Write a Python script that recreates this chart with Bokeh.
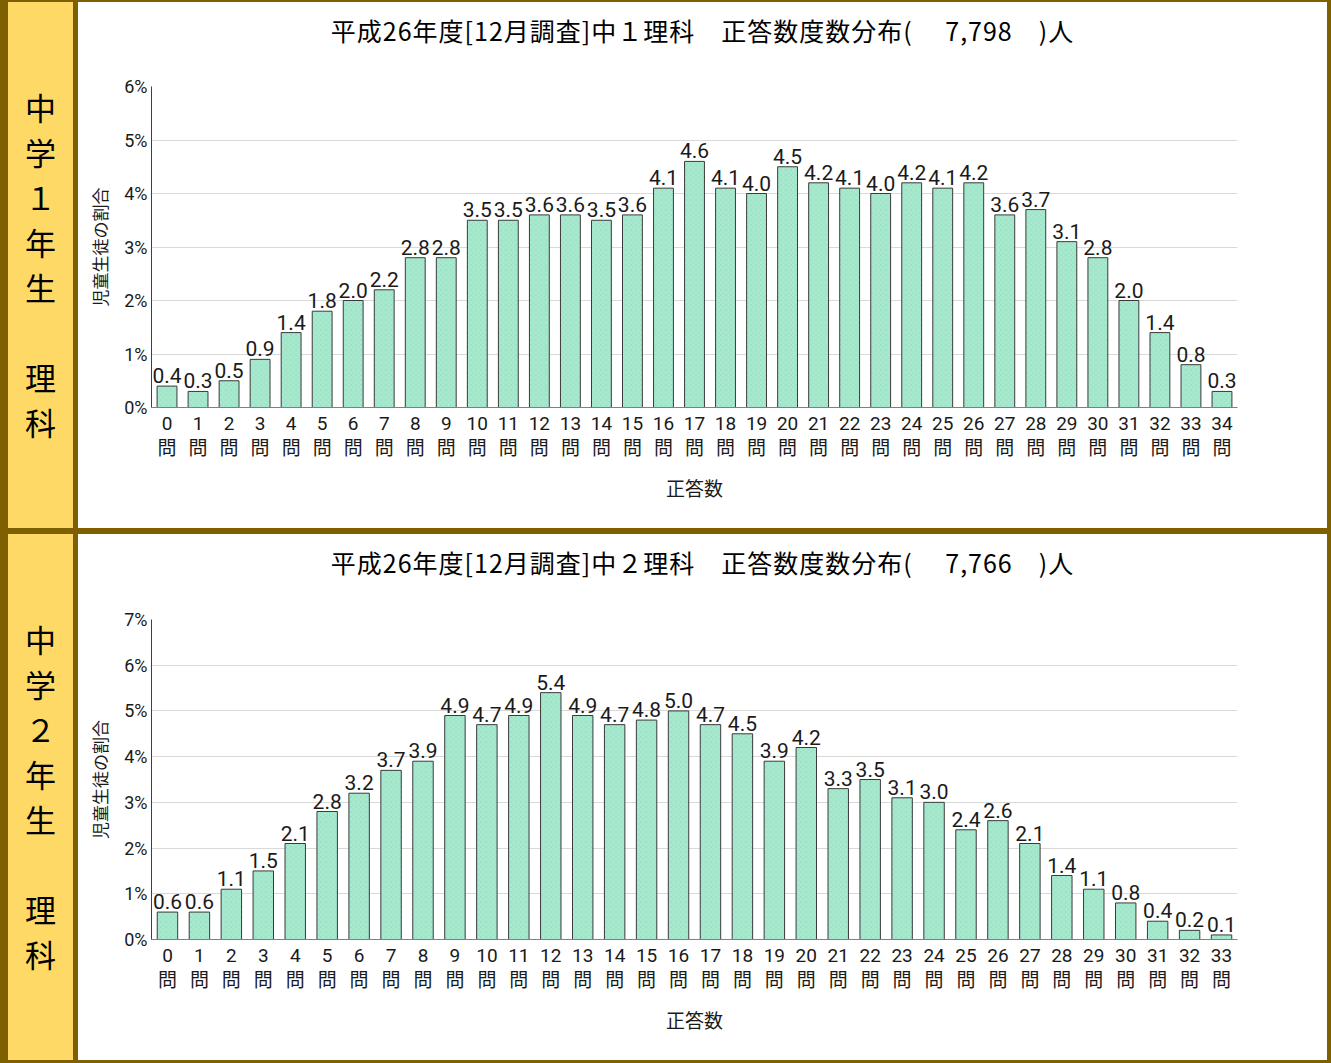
from bokeh.plotting import figure
from bokeh.models import (Range1d, FixedTicker, ColumnDataSource, LinearAxis, Div)
from bokeh.layouts import row, column
from bokeh.core.properties import value
from bokeh.embed import file_html
from bokeh.resources import INLINE

# ---------------- data ----------------
title1 = "平成26年度[12月調査]中１理科　正答数度数分布(　 7,798　)人"
title2 = "平成26年度[12月調査]中２理科　正答数度数分布(　 7,766　)人"
side1 = ["中", "学", "１", "年", "生", "", "理", "科"]
side2 = ["中", "学", "２", "年", "生", "", "理", "科"]
y_label = "児童生徒の割合"
x_label = "正答数"
q_label = "問"
cats1 = list(range(35))
vals1 = [0.4, 0.3, 0.5, 0.9, 1.4, 1.8, 2.0, 2.2, 2.8, 2.8,
         3.5, 3.5, 3.6, 3.6, 3.5, 3.6, 4.1, 4.6, 4.1, 4.0,
         4.5, 4.2, 4.1, 4.0, 4.2, 4.1, 4.2, 3.6, 3.7, 3.1,
         2.8, 2.0, 1.4, 0.8, 0.3]
cats2 = list(range(34))
vals2 = [0.6, 0.6, 1.1, 1.5, 2.1, 2.8, 3.2, 3.7, 3.9, 4.9,
         4.7, 4.9, 5.4, 4.9, 4.7, 4.8, 5.0, 4.7, 4.5, 3.9,
         4.2, 3.3, 3.5, 3.1, 3.0, 2.4, 2.6, 2.1, 1.4, 1.1,
         0.8, 0.4, 0.2, 0.1]
ymax1 = 6
ymax2 = 7

# ---------------- styling ----------------
BROWN = "#7F6000"
YELLOW = "#FFD966"
BAR = "#A8E9CF"
NUM = "Roboto"
CJK = "Noto Sans CJK JP"

PANEL_W = 1249
PANEL_H = 526
SIDE_W = 65
TITLE_H = 60


def side_panel(chars):
    cells = "".join(
        "<div style=\"height:45px;line-height:45px;\">%s</div>" % (c if c else "&nbsp;")
        for c in chars)
    html = ("<div style=\"width:65px;padding-top:82px;text-align:center;"
            "font-family:'Noto Sans CJK JP';font-size:31px;font-weight:400;color:#000000;\">"
            + cells + "</div>")
    return Div(text=html, width=SIDE_W, height=PANEL_H, margin=0,
               styles={"background-color": YELLOW, "overflow": "hidden"})


def title_div(text):
    html = ("<div style=\"width:%dpx;height:%dpx;line-height:56px;text-align:center;"
            "font-family:'Noto Sans CJK JP';font-size:25px;letter-spacing:1px;"
            "color:#000000;white-space:pre;\">%s</div>" % (PANEL_W, TITLE_H, text))
    return Div(text=html, width=PANEL_W, height=TITLE_H, margin=0,
               styles={"background-color": "white"})


def chart(cats, vals, ymax, top_border, frame_h):
    n = len(cats)
    fig_h = PANEL_H - TITLE_H
    p = figure(width=PANEL_W, height=fig_h, x_range=Range1d(-0.5, n - 0.5),
               y_range=Range1d(0, ymax), toolbar_location=None,
               output_backend="svg", min_border_left=73, min_border_right=90,
               min_border_top=top_border,
               min_border_bottom=fig_h - top_border - frame_h)
    p.outline_line_color = None
    p.outline_line_alpha = 0
    p.background_fill_color = "white"
    p.border_fill_color = "white"

    src = ColumnDataSource(dict(x=cats, top=vals, lab=[f"{v:.1f}" for v in vals]))
    p.vbar(x="x", top="top", width=0.64, source=src, fill_color=BAR,
           line_color="#3A3A3A", line_width=1,
           hatch_pattern="diagonal_cross", hatch_color="#6FC9A3",
           hatch_alpha=0.35, hatch_scale=5, hatch_weight=0.6)
    p.text(x="x", y="top", text="lab", source=src, text_align="center",
           text_baseline="bottom", y_offset=-3, text_font=value(NUM),
           text_font_size="21px", text_color="#1A1A1A")

    p.xgrid.visible = False
    p.ygrid.grid_line_color = "#D9D9D9"
    p.ygrid.grid_line_width = 1
    p.ygrid.ticker = FixedTicker(ticks=list(range(ymax + 1)))

    p.yaxis.ticker = FixedTicker(ticks=list(range(ymax + 1)))
    p.yaxis.major_label_overrides = {i: f"{i}%" for i in range(ymax + 1)}
    p.yaxis.axis_line_color = "#404040"
    p.yaxis.major_tick_line_color = None
    p.yaxis.major_tick_out = 0
    p.yaxis.major_tick_in = 0
    p.yaxis.minor_tick_line_color = None
    p.yaxis.major_label_standoff = 4
    p.yaxis.major_label_text_font = NUM
    p.yaxis.major_label_text_font_size = "18px"
    p.yaxis.major_label_text_color = "#1A1A1A"
    p.yaxis.axis_label = y_label
    p.yaxis.axis_label_text_font = CJK
    p.yaxis.axis_label_text_font_size = "17px"
    p.yaxis.axis_label_text_font_style = "normal"
    p.yaxis.axis_label_text_color = "#1A1A1A"
    p.yaxis.axis_label_standoff = 9

    p.xaxis.ticker = FixedTicker(ticks=cats)
    p.xaxis.major_label_overrides = {c: str(c) for c in cats}
    p.xaxis.axis_line_color = "#808080"
    p.xaxis.major_tick_line_color = None
    p.xaxis.minor_tick_line_color = None
    p.xaxis.major_tick_out = 0
    p.xaxis.major_tick_in = 0
    p.xaxis.major_label_standoff = 9
    p.xaxis.major_label_text_font = NUM
    p.xaxis.major_label_text_font_size = "19px"
    p.xaxis.major_label_text_color = "#1A1A1A"

    ax2 = LinearAxis(ticker=FixedTicker(ticks=cats),
                     axis_line_color=None, major_tick_line_color=None,
                     minor_tick_line_color=None,
                     major_tick_out=0, major_tick_in=0,
                     major_label_standoff=0,
                     major_label_overrides={c: q_label for c in cats},
                     major_label_text_font=CJK,
                     major_label_text_font_size="19px",
                     major_label_text_color="#1A1A1A",
                     axis_label=x_label, axis_label_text_font=CJK,
                     axis_label_text_font_size="19px",
                     axis_label_text_font_style="normal",
                     axis_label_text_color="#1A1A1A",
                     axis_label_standoff=11)
    p.add_layout(ax2, "below")
    return p


c1 = chart(cats1, vals1, ymax1, 84 - TITLE_H, 321)
c2 = chart(cats2, vals2, ymax2, 85 - TITLE_H, 320)
t1 = title_div(title1)
t2 = title_div(title2)
s1 = side_panel(side1)
s2 = side_panel(side2)

WHITE = {"background-color": "white"}
r1 = row(s1, column(t1, c1, spacing=0, styles=WHITE), spacing=5)
r2 = row(s2, column(t2, c2, spacing=0, styles=WHITE), spacing=5)
layout = column(r1, r2, spacing=6,
                styles={"background-color": BROWN, "padding": "2px 4px 3px 8px"})

open("out.html", "w").write(file_html(layout, INLINE))
